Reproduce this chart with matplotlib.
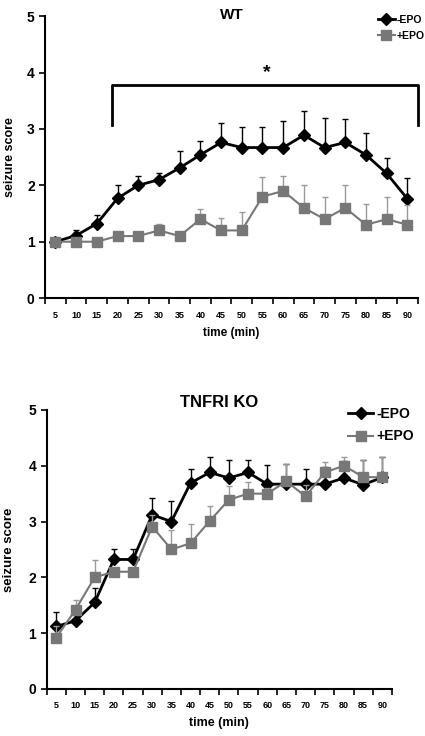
import numpy as np
import matplotlib
matplotlib.use("Agg")
import matplotlib.pyplot as plt
from matplotlib.lines import Line2D

plt.rcParams["font.family"] = ["Liberation Sans", "DejaVu Sans"]
plt.rcParams["font.weight"] = "bold"

times = [5, 10, 15, 20, 25, 30, 35, 40, 45, 50, 55, 60, 65, 70, 75, 80, 85, 90]

# WT
wt_minus = [1.0, 1.11, 1.32, 1.77, 2.0, 2.1, 2.31, 2.54, 2.76, 2.67, 2.67, 2.67, 2.89, 2.67, 2.76, 2.54, 2.21, 1.76]
wt_minus_err = [0.0, 0.1, 0.16, 0.23, 0.17, 0.11, 0.3, 0.25, 0.34, 0.37, 0.37, 0.47, 0.43, 0.52, 0.42, 0.38, 0.27, 0.37]
wt_plus = [1.0, 1.0, 1.0, 1.1, 1.1, 1.2, 1.1, 1.4, 1.2, 1.2, 1.8, 1.9, 1.6, 1.4, 1.6, 1.3, 1.4, 1.3]
wt_plus_err = [0.0, 0.0, 0.0, 0.0, 0.0, 0.11, 0.0, 0.18, 0.22, 0.33, 0.34, 0.27, 0.4, 0.4, 0.4, 0.37, 0.4, 0.35]

# TNFRI KO
ko_minus = [1.12, 1.22, 1.55, 2.32, 2.32, 3.12, 3.0, 3.69, 3.88, 3.78, 3.88, 3.67, 3.67, 3.67, 3.67, 3.78, 3.66, 3.79]
ko_minus_err = [0.25, 0.1, 0.25, 0.18, 0.18, 0.31, 0.37, 0.26, 0.27, 0.32, 0.22, 0.34, 0.37, 0.28, 0.3, 0.3, 0.44, 0.37]
ko_plus = [0.92, 1.42, 2.0, 2.1, 2.1, 2.91, 2.5, 2.61, 3.01, 3.39, 3.5, 3.5, 3.72, 3.45, 3.88, 4.0, 3.8, 3.79]
ko_plus_err = [0.2, 0.17, 0.31, 0.0, 0.0, 0.2, 0.35, 0.35, 0.27, 0.25, 0.2, 0.1, 0.32, 0.2, 0.19, 0.16, 0.3, 0.37]

# significance bracket for WT (category units / score units)
bracket_x = [2.72, 17.5]
bracket_y = [3.07, 3.78]
star_pos = (10.2, 4.0)

GRAY = "#777777"


def panel(ax, title, minus, minus_err, plus, plus_err, fs):
    x = np.arange(len(times))
    ax.errorbar(x, minus, yerr=[np.zeros(len(x)), minus_err], color="black", lw=2,
                marker="D", ms=fs["ms"] - 1, capsize=2, elinewidth=1, capthick=1,
                zorder=3)
    ax.errorbar(x, plus, yerr=[np.zeros(len(x)), plus_err], color=GRAY, lw=1.5,
                marker="s", ms=fs["ms"], ecolor="#999999", capsize=2, elinewidth=1,
                capthick=1, zorder=4)
    ax.set_xlim(-0.5, len(times) - 0.5)
    ax.set_ylim(0, 5)
    ax.set_yticks(range(6))
    ax.set_xticks(x)
    ax.set_xticklabels([str(t) for t in times], fontsize=fs["xtick"], fontweight="bold")
    ax.set_xticks(np.arange(-0.5, len(times)), minor=True)
    ax.tick_params(axis="x", which="major", length=0, pad=fs["xtpad"])
    ax.tick_params(axis="x", which="minor", length=4, width=1.2, direction="out")
    ax.tick_params(axis="y", length=4, width=1.2, labelsize=fs["ytick"])
    for lab in ax.get_yticklabels():
        lab.set_fontweight("bold")
    for s in ["top", "right"]:
        ax.spines[s].set_visible(False)
    for s in ["left", "bottom"]:
        ax.spines[s].set_linewidth(1.5)
    ax.set_xlabel("time (min)", fontsize=fs["xlabel"], fontweight="bold", labelpad=fs["xlpad"])
    ax.set_ylabel("seizure score", fontsize=fs["ylabel"], fontweight="bold", labelpad=fs["ylpad"])
    ax.set_title(title, fontsize=fs["title"], fontweight="bold", y=fs["ty"], pad=0)
    handles = [Line2D([], [], color="black", lw=2, marker="D", ms=fs["ms"] - 1),
               Line2D([], [], color=GRAY, lw=1.5, marker="s", ms=fs["ms"])]
    leg = ax.legend(handles, ["-EPO", "+EPO"], loc="upper right", frameon=False,
                    fontsize=fs["legend"], handlelength=fs["hl"], handletextpad=0.2,
                    borderaxespad=0, labelspacing=fs["ls"], bbox_to_anchor=fs["anchor"])
    for t in leg.get_texts():
        t.set_fontweight("bold")


fig = plt.figure(figsize=(4.25, 7.36), dpi=100)
ax1 = fig.add_axes([0.106, 0.595, 0.877, 0.383])
ax2 = fig.add_axes([0.110, 0.064, 0.812, 0.379])

panel(ax1, "WT", wt_minus, wt_minus_err, wt_plus, wt_plus_err,
      dict(ms=7, xtick=6.5, ytick=10, xlabel=8.5, ylabel=9, title=11, ty=0.99,
           legend=7.5, hl=1.6, ls=0.6, anchor=(1.03, 1.02), xlpad=5, ylpad=8, xtpad=9))
panel(ax2, "TNFRI KO", ko_minus, ko_minus_err, ko_plus, ko_plus_err,
      dict(ms=7, xtick=6.5, ytick=10, xlabel=9, ylabel=9.5, title=12, ty=1.01,
           legend=10, hl=1.8, ls=0.6, anchor=(1.08, 1.03), xlpad=5, ylpad=10, xtpad=9))

# significance bracket
ax1.plot([bracket_x[0], bracket_x[0], bracket_x[1], bracket_x[1]],
         [bracket_y[0], bracket_y[1], bracket_y[1], bracket_y[0]],
         color="black", lw=2, clip_on=False)
ax1.text(star_pos[0], star_pos[1], "*", fontsize=14, fontweight="bold",
         ha="center", va="center")

fig.savefig("out.png", dpi=100)
